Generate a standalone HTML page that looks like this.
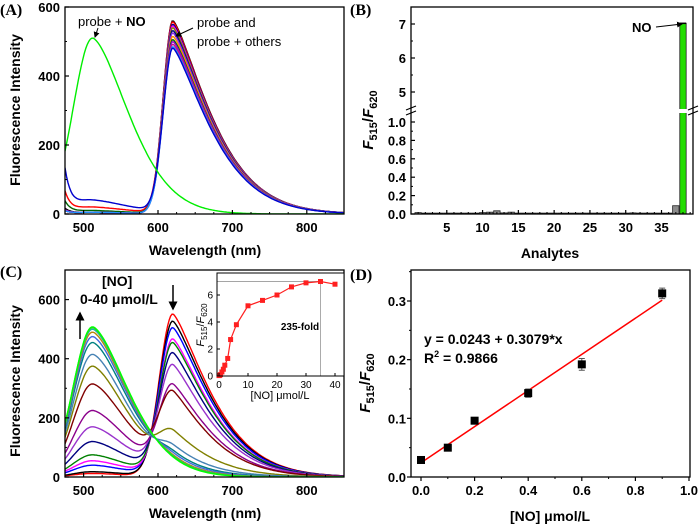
<!DOCTYPE html>
<html><head><meta charset="utf-8"><style>
html,body{margin:0;padding:0;background:#fff;}
svg{display:block;font-family:"Liberation Sans",sans-serif;}
.t{font-weight:bold;font-size:13px;}
.pl{font-family:"Liberation Serif",serif;font-weight:bold;font-size:16px;}
.ti{font-weight:bold;font-size:14px;}
.in{font-size:10px;}
</style></head><body>
<svg id="fig" width="700" height="526" viewBox="0 0 700 526" xmlns="http://www.w3.org/2000/svg">
<defs>
<marker id="ah" markerWidth="6" markerHeight="6" refX="5" refY="3" orient="auto"><path d="M0,0 L6,3 L0,6 z" fill="#000"/></marker>
</defs>
<g id="gA"></g>
<g id="gB"></g>
<g id="gC"></g>
<g id="gD"></g>
<g id="gI"></g>
</svg>
<script>
// ---------- data ----------
const specAColors = ["#000000","#ff0000","#00008b","#ff00ff","#808000","#000080","#8a2be2","#ff8c00","#006400","#9400d3","#c71585","#1e90ff","#0000cd"];
const specA620 = [560,555,550,545,540,532,525,515,505,500,492,485,476];
const specA515 = [5,20,5,5,5,5,5,5,10,5,5,5,40];
const specATail = [15,60,10,10,8,8,8,8,35,8,8,8,120];
const specANO515 = 510;
const specANOTail = 0;

const specCColors = ["#ff0000","#000000","#0000ff","#ff00ff","#008000","#000080","#9932cc","#8b008b","#800000","#808000","#4682b4","#008080","#4169e1","#b8860b","#20b2aa","#32cd32","#00ff00"];
const specC620 = [550,525,500,460,445,405,358,285,250,110,55,30,20,10,5,3,0];
const specC515 = [12,18,40,55,75,120,170,225,315,375,415,455,475,490,500,505,508];

const barCats = [];
for (let i=1;i<=38;i++) barCats.push(i);
const barVals = [0.015,0.01,0.01,0.01,0.01,0.01,0.01,0.01,0.01,0.015,0.02,0.035,0.012,0.02,0.01,0.01,0.01,0.01,0.01,0.01,0.01,0.01,0.01,0.01,0.01,0.01,0.01,0.01,0.01,0.01,0.012,0.01,0.01,0.01,0.01,0.01,0.09,7.02];

const insetX = [0,0.2,0.5,1,1.5,2,3,4,6,10,15,20,25,30,35,40];
const insetY = [0.03,0.05,0.1,0.3,0.5,0.8,1.3,2.7,3.8,5.2,5.6,6.0,6.6,6.9,7.0,6.8];

const linX = [0,0.1,0.2,0.4,0.6,0.9];
const linY = [0.029,0.05,0.096,0.143,0.192,0.313];
const linErr = [0.003,0.004,0.005,0.007,0.01,0.009];
const fitA = 0.0243, fitB = 0.3079;

const ticksAX = [500,600,700,800], ticksAY=[0,200,400,600];
const ticksCY = [0,200,400,600];
const ticksBX = [5,10,15,20,25,30,35];
const ticksBLow = [0,0.2,0.4,0.6,0.8,1.0], ticksBUp=[5,6,7];
const ticksDX = [0,0.2,0.4,0.6,0.8,1.0], ticksDY=[0,0.1,0.2,0.3];
const ticksIX = [0,10,20,30,40], ticksIY=[0,2,4,6];

// ---------- helpers ----------
const NS="http://www.w3.org/2000/svg";
function mk(parent,tag,attrs,text){const e=document.createElementNS(NS,tag);for(const k in attrs)e.setAttribute(k,attrs[k]);if(text!==undefined)e.textContent=text;parent.appendChild(e);return e;}
function lin(d0,d1,r0,r1){return v=>r0+(v-d0)*(r1-r0)/(d1-d0);}
function g515(x){return x<512?Math.exp(-Math.pow((x-512)/25.8,2)/2):Math.exp(-Math.pow((x-512)/70,1.6));}
function g620(x,sL){return x<620?Math.exp(-Math.pow((x-620)/sL,2)/2):Math.exp(-Math.pow((x-620)/69.8,1.34));}
function spec(x,a515,a620,tail,sL){return a515*g515(x)+a620*g620(x,sL)+tail*Math.exp(-(x-475)/8);}
function pathFrom(fx,fy,f){let d="";for(let x=475;x<=850;x+=2){d+=(d?"L":"M")+fx(x).toFixed(1)+","+fy(f(x)).toFixed(1);}return d;}
function fmt(v,dec){return v.toFixed(dec);}

// ---------- Panel A ----------
(function(){
const g=document.getElementById("gA");
const X=lin(475,850,65,344), Y=lin(0,600,214,7);
const cl=mk(g,"clipPath",{id:"clA"});mk(cl,"rect",{x:65,y:7,width:279,height:207});
const lines=mk(g,"g",{"clip-path":"url(#clA)"});
for(let i=0;i<specA620.length;i++){
 const p=mk(lines,"path",{d:pathFrom(X,Y,x=>spec(x,specA515[i],specA620[i],specATail[i],13)),fill:"none",stroke:specAColors[i],"stroke-width":1.4});
 
 
}
const pn=mk(lines,"path",{d:pathFrom(X,Y,x=>spec(x,specANO515,0,specANOTail,13)),fill:"none",stroke:"#00ee00","stroke-width":1.4});


axesBox(g,65,7,344,214);
ticksX(g,ticksAX,X,214,v=>v,4,true,[525,550,575,625,650,675,725,750,775,825]);
ticksY(g,ticksAY,Y,65,v=>v,4,true,[100,300,500]);
})();

// ---------- Panel C ----------
(function(){
const g=document.getElementById("gC");
const X=lin(475,850,65,344), Y=lin(0,700,477,270);
const cl=mk(g,"clipPath",{id:"clC"});mk(cl,"rect",{x:65,y:270,width:279,height:207});
const lines=mk(g,"g",{"clip-path":"url(#clC)"});
for(let i=0;i<specC620.length;i++){
 const p=mk(lines,"path",{d:pathFrom(X,Y,x=>spec(x,specC515[i],specC620[i],0,18)),fill:"none",stroke:specCColors[i],"stroke-width":1.4});
 
 
}
axesBox(g,65,270,344,477);
ticksX(g,ticksAX,X,477,v=>v,4,true,[525,550,575,625,650,675,725,750,775,825]);
ticksY(g,ticksCY,Y,65,v=>v,4,true,[100,300,500,700]);
})();

// ---------- Panel B ----------
(function(){
const g=document.getElementById("gB");
const X=lin(0,39.4,411,693), YL=lin(0,1,214,122), YU=lin(5,7,92,24);
const bw=6.4;
for(let i=0;i<barCats.length;i++){
 const v=barVals[i], xc=X(barCats[i]);
 const isNO=v>1.1;
 const top=isNO?YU(v):YL(v);
 const r=mk(g,"rect",{x:xc-bw/2,y:top,width:bw,height:214-top,fill:isNO?"#22dd00":"#8c8c8c",stroke:"#222","stroke-width":0.8});
 
 
 if(isNO){mk(g,"line",{x1:xc-bw/2-1,x2:xc-bw/2-1+1,y1:top,y2:top});mk(g,"line",{x1:xc-bw/2,x2:xc+bw/2,y1:top,y2:top,stroke:"#000","stroke-width":1.5});}
}
// break gap
mk(g,"rect",{x:405,y:109,width:295,height:4,fill:"#fff"});
axesBox(g,411,7,693,214,true);
ticksX(g,ticksBX,X,214,v=>v,4,true,[1,2,3,4,6,7,8,9,11,12,13,14,16,17,18,19,21,22,23,24,26,27,28,29,31,32,33,34,36,37,38,39]);
ticksY(g,ticksBLow,YL,411,v=>fmt(v,1),4,true,[0.1,0.3,0.5,0.7,0.9]);
ticksY(g,ticksBUp,YU,411,v=>v,4,true,[5.5,6.5]);
// break marks
for(const xx of [411,693]){
 mk(g,"path",{d:`M${xx-5},${110} L${xx+5},${106} M${xx-5},${115} L${xx+5},${111}`,stroke:"#000","stroke-width":1.2,fill:"none"});
}
})();

// ---------- Panel D ----------
(function(){
const g=document.getElementById("gD");
const X=lin(0,1,421,689), Y=lin(0,0.3,477,301);
const fl=mk(g,"line",{x1:X(0),y1:Y(fitA),x2:X(0.9),y2:Y(fitA+fitB*0.9),stroke:"#ff0000","stroke-width":1.5});


for(let i=0;i<linX.length;i++){
 const cx=X(linX[i]), cy=Y(linY[i]);
 const e=mk(g,"path",{d:`M${cx},${Y(linY[i]-linErr[i])} L${cx},${Y(linY[i]+linErr[i])} M${cx-3},${Y(linY[i]-linErr[i])} L${cx+3},${Y(linY[i]-linErr[i])} M${cx-3},${Y(linY[i]+linErr[i])} L${cx+3},${Y(linY[i]+linErr[i])}`,stroke:"#555","stroke-width":1,fill:"none"});
 
 
 const r=mk(g,"rect",{x:cx-4,y:cy-4,width:8,height:8,fill:"#000"});
 
 
}
axesBox(g,411,270,690,477);
ticksX(g,ticksDX,X,477,v=>fmt(v,1),4,false,[0.1,0.3,0.5,0.7,0.9]);
ticksY(g,ticksDY,Y,411,v=>fmt(v,1),4,false,[0.05,0.15,0.25,0.35]);
})();

// ---------- Inset ----------
(function(){
const g=document.getElementById("gI");
const X=lin(0,40,219,335), Y=lin(0,6,376,295);
mk(g,"rect",{x:217,y:273,width:127,height:103,fill:"#fff"});
const i35=insetX.indexOf(35);
mk(g,"path",{d:`M217,${Y(insetY[i35])} L${X(35)},${Y(insetY[i35])} L${X(35)},376`,stroke:"#888","stroke-width":0.7,fill:"none"});
let d="";for(let i=0;i<insetX.length;i++)d+=(i?"L":"M")+X(insetX[i])+","+Y(insetY[i]);
const l=mk(g,"path",{d:d,stroke:"#ff2020","stroke-width":1.2,fill:"none"});


for(let i=0;i<insetX.length;i++){
 const r=mk(g,"rect",{x:X(insetX[i])-2.5,y:Y(insetY[i])-2.5,width:5,height:5,fill:"#ff2020"});
 
 
}
mk(g,"rect",{x:217,y:273,width:127,height:103,fill:"none",stroke:"#000","stroke-width":1});
for(const v of ticksIX){mk(g,"line",{x1:X(v),x2:X(v),y1:376,y2:373,stroke:"#000"});
 const t=mk(g,"text",{x:X(v),y:388,"text-anchor":"middle",class:"in"},v);
 
 }
for(const v of ticksIY){mk(g,"line",{x1:217,x2:220,y1:Y(v),y2:Y(v),stroke:"#000"});
 const t=mk(g,"text",{x:213,y:Y(v)+3.5,"text-anchor":"end",class:"in"},v);
 
 }
})();

function axesBox(g,x0,y0,x1,y1){
 const r=mk(g,"rect",{x:x0,y:y0,width:x1-x0,height:y1-y0,fill:"none",stroke:"#000","stroke-width":1.3});
 
 
}
function ticksX(g,vals,X,y,lab,len,inward,minor){
 const s=inward?-1:1;
 for(const v of vals){mk(g,"line",{x1:X(v),x2:X(v),y1:y,y2:y+s*len,stroke:"#000","stroke-width":1.2});
  const t=mk(g,"text",{x:X(v),y:y+18,"text-anchor":"middle",class:"t"},lab(v));
  
  }
 for(const v of minor){mk(g,"line",{x1:X(v),x2:X(v),y1:y,y2:y+s*2,stroke:"#000","stroke-width":1});}
}
function ticksY(g,vals,Y,x,lab,len,inward,minor){
 const s=inward?1:-1;
 for(const v of vals){mk(g,"line",{x1:x,x2:x+s*len,y1:Y(v),y2:Y(v),stroke:"#000","stroke-width":1.2});
  const t=mk(g,"text",{x:x-5,y:Y(v)+5,"text-anchor":"end",class:"t"},lab(v));
  
  }
 for(const v of minor){mk(g,"line",{x1:x,x2:x+s*2,y1:Y(v),y2:Y(v),stroke:"#000","stroke-width":1});}
}
</script>
<svg style="position:absolute;left:0;top:0" width="700" height="526">
<defs><marker id="ah2" markerWidth="6" markerHeight="6" refX="5" refY="3" orient="auto"><path d="M0,0 L6,3 L0,6 z" fill="#000"/></marker></defs>
<g font-family="Liberation Sans, sans-serif">
<text x="0" y="15" class="pl" font-family="Liberation Serif, serif" font-weight="bold" font-size="16">(A)</text>
<text x="350" y="15" font-family="Liberation Serif, serif" font-weight="bold" font-size="16">(B)</text>
<text x="0" y="277" font-family="Liberation Serif, serif" font-weight="bold" font-size="16">(C)</text>
<text x="350" y="280" font-family="Liberation Serif, serif" font-weight="bold" font-size="16">(D)</text>

<text transform="translate(20,110) rotate(-90)" text-anchor="middle" font-weight="bold" font-size="14">Fluorescence Intensity</text>
<text x="205" y="255" text-anchor="middle" font-weight="bold" font-size="14">Wavelength (nm)</text>
<text x="78" y="26" font-size="13">probe + <tspan font-weight="bold">NO</tspan></text>
<line x1="98" y1="28" x2="95" y2="37" stroke="#000" stroke-width="1" marker-end="url(#ah2)"/>
<text x="197" y="27" font-size="13">probe and</text>
<text x="197" y="46" font-size="13">probe + others</text>
<line x1="193" y1="28" x2="176" y2="36" stroke="#000" stroke-width="1" marker-end="url(#ah2)"/>

<text transform="translate(373,120) rotate(-90)" text-anchor="middle" font-weight="bold" font-size="15"><tspan font-style="italic">F</tspan><tspan font-size="11" dy="4">515</tspan><tspan dy="-4">/</tspan><tspan font-style="italic">F</tspan><tspan font-size="11" dy="4">620</tspan></text>
<text x="550" y="258" text-anchor="middle" font-weight="bold" font-size="14">Analytes</text>
<text x="632" y="32" font-weight="bold" font-size="13">NO</text>
<line x1="656" y1="27" x2="682" y2="24" stroke="#000" stroke-width="1" marker-end="url(#ah2)"/>

<text transform="translate(20,381) rotate(-90)" text-anchor="middle" font-weight="bold" font-size="14">Fluorescence Intensity</text>
<text x="205" y="518" text-anchor="middle" font-weight="bold" font-size="14">Wavelength (nm)</text>
<text x="102" y="286" font-weight="bold" font-size="14">[NO]</text>
<text x="80" y="304" font-weight="bold" font-size="14">0-40 μmol/L</text>
<line x1="80" y1="339" x2="80" y2="313" stroke="#000" stroke-width="1.5" marker-end="url(#ah2)"/>
<line x1="173" y1="285" x2="173" y2="309" stroke="#000" stroke-width="1.5" marker-end="url(#ah2)"/>
<text transform="translate(204,325) rotate(-90)" text-anchor="middle" font-size="11"><tspan font-style="italic">F</tspan><tspan font-size="8" dy="3">515</tspan><tspan dy="-3">/</tspan><tspan font-style="italic">F</tspan><tspan font-size="8" dy="3">620</tspan></text>
<text x="280" y="399" text-anchor="middle" font-size="11">[NO] μmol/L</text>
<text x="300" y="330" text-anchor="middle" font-weight="bold" font-size="10">235-fold</text>

<text transform="translate(370,383) rotate(-90)" text-anchor="middle" font-weight="bold" font-size="15"><tspan font-style="italic">F</tspan><tspan font-size="11" dy="4">515</tspan><tspan dy="-4">/</tspan><tspan font-style="italic">F</tspan><tspan font-size="11" dy="4">620</tspan></text>
<text x="550" y="521" text-anchor="middle" font-weight="bold" font-size="14">[NO] μmol/L</text>
<text x="424" y="344" font-weight="bold" font-size="14">y = 0.0243 + 0.3079*x</text>
<text x="424" y="363" font-weight="bold" font-size="14">R<tspan font-size="9" dy="-6">2</tspan><tspan dy="6"> = 0.9866</tspan></text>
</g>
</svg>
</body></html>
